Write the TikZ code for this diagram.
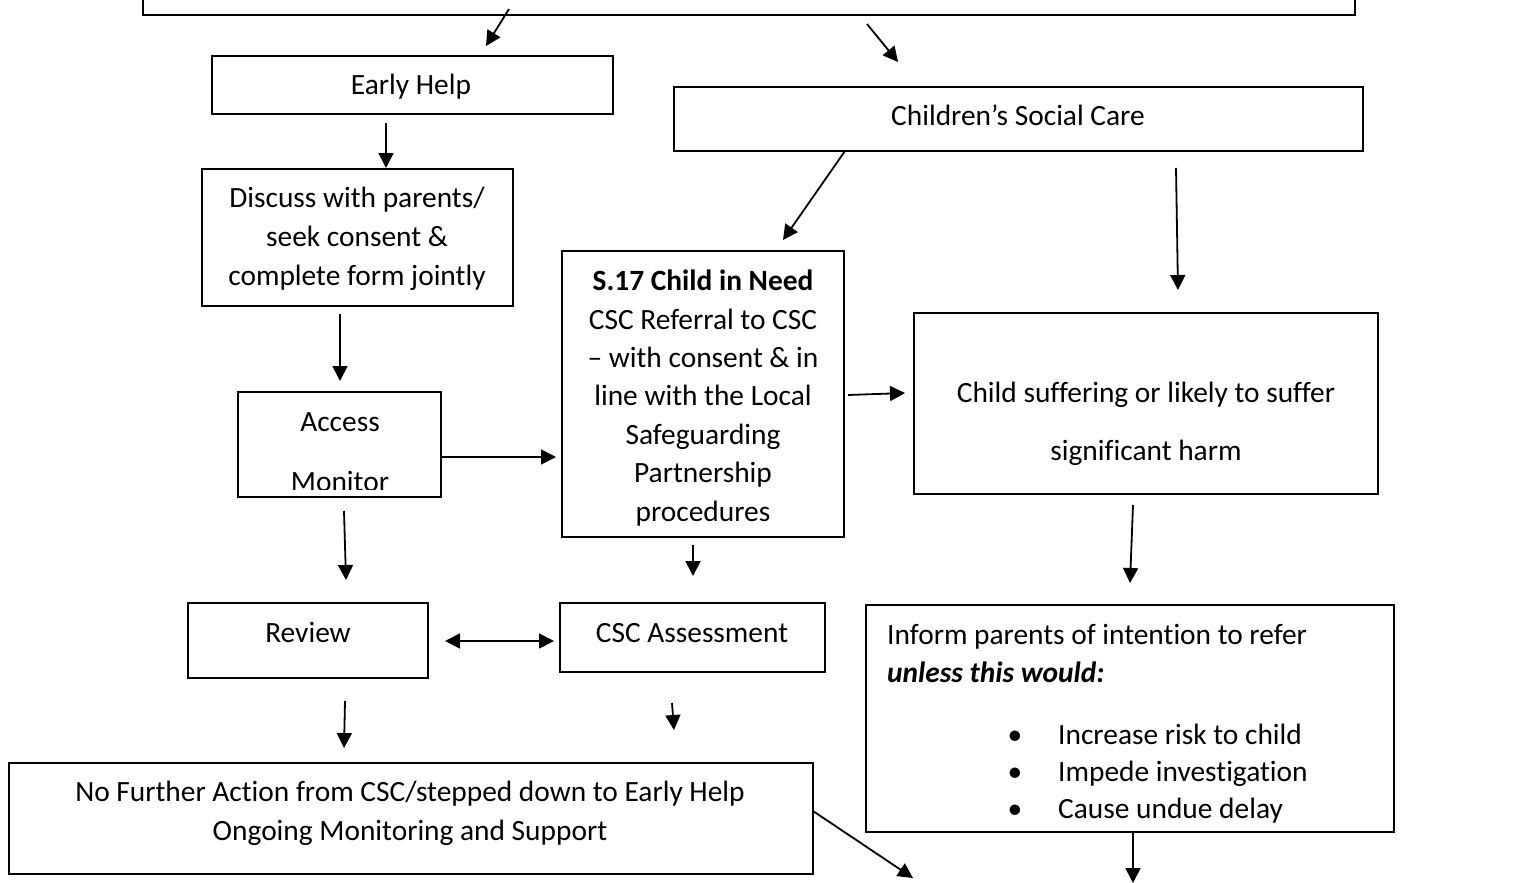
\documentclass[tikz,border=0pt]{standalone}
\usepackage{fontspec}
\setmainfont[Ligatures={NoCommon}]{Carlito}
\usetikzlibrary{arrows.meta}
\newcommand\mybox[5]{\node[box,minimum width={#4-#2},minimum height={#5-#3}] (#1) at ({(#2+#4)/2},{(#3+#5)/2}) {};}
\begin{document}
\begin{tikzpicture}[x=1pt,y=-1pt,
  box/.style={draw, line width=1.8pt, inner sep=0pt},
  txt/.style={inner sep=0pt, anchor=base, font=\fontsize{29.4}{38.5}\selectfont},
  ltxt/.style={txt, anchor=base west},
  arr/.style={line width=1.8pt, -{Triangle[length=15pt,width=15pt]}},
  darr/.style={line width=1.8pt, {Triangle[length=15pt,width=15pt]}-{Triangle[length=15pt,width=15pt]}}]
\useasboundingbox (0,0) rectangle (1515,883);

% boxes
\node[draw, line width=2.5pt, inner sep=0pt, minimum width=1212, minimum height=45] (top) at (749,-7.5) {};
\mybox{eh}{212}{56}{613}{114}
\mybox{csc}{674}{87}{1363}{151}
\mybox{disc}{202}{169}{513}{306}
\mybox{acc}{238}{392}{441}{497}
\mybox{sseventeen}{562}{251}{844}{537}
\mybox{harm}{914}{313}{1378}{494}
\mybox{rev}{188}{603}{428}{678}
\mybox{assess}{560}{603}{825}{672}
\mybox{inform}{866}{605}{1394}{832}
\mybox{nfa}{9}{763}{813}{874}

% texts
\node[txt] (tEH) at (411,94) {Early Help};
\node[txt] (tCSC) at (1018,125) {Children’s Social Care};
\node[txt] (tD1) at (357,207) {Discuss with parents/};
\node[txt] (tD2) at (357,246) {seek consent \&};
\node[txt] (tD3) at (357,285) {complete form jointly};
\node[txt] (tA1) at (340,431) {Access};
\begin{scope}
  \clip (239,393) rectangle (440,489);
  \node[txt] (tA2) at (340,491) {Monitor};
\end{scope}
\node[txt] (tS1) at (703,290) {\bfseries S.17 Child in Need};
\node[txt] (tS2) at (703,329) {CSC Referral to CSC};
\node[txt] (tS3) at (703,367) {– with consent \& in};
\node[txt] (tS4) at (703,405) {line with the Local};
\node[txt] (tS5) at (703,444) {Safeguarding};
\node[txt] (tS6) at (703,482) {Partnership};
\node[txt] (tS7) at (703,521) {procedures};
\node[txt] (tH1) at (1146,402) {Child suffering or likely to suffer};
\node[txt] (tH2) at (1146,460) {significant harm};
\node[txt] (tR) at (308,642) {Review};
\node[txt] (tCA) at (692,642) {CSC Assessment};
\node[ltxt] (tI1) at (887,644) {Inform parents of intention to refer};
\node[ltxt] (tI2) at (887,682) {\bfseries\itshape unless this would:};
\node[txt] (b1) at (1015,744) {•};
\node[txt] (b2) at (1015,781) {•};
\node[txt] (b3) at (1015,818) {•};
\node[ltxt] (tI3) at (1058,744) {Increase risk to child};
\node[ltxt] (tI4) at (1058,781) {Impede investigation};
\node[ltxt] (tI5) at (1058,818) {Cause undue delay};
\node[txt] (tN1) at (410,801) {No Further Action from CSC/stepped down to Early Help};
\node[txt] (tN2) at (410,840) {Ongoing Monitoring and Support};

% connector ends
\coordinate (c1s) at (509,9);    \coordinate (c1e) at (486,46);
\coordinate (c2s) at (867,24);   \coordinate (c2e) at (898,62);
\coordinate (c3s) at (386,123);  \coordinate (c3e) at (386,168);
\coordinate (c4s) at (340,314);  \coordinate (c4e) at (340,381);
\coordinate (c5s) at (441,457);  \coordinate (c5e) at (556,457);
\coordinate (c6s) at (845,151);  \coordinate (c6e) at (783,240);
\coordinate (c7s) at (1176,168); \coordinate (c7e) at (1178,290);
\coordinate (c8s) at (848,395);  \coordinate (c8e) at (905,393);
\coordinate (c9s) at (344,511);  \coordinate (c9e) at (346,580);
\coordinate (c10s) at (693,545); \coordinate (c10e) at (693,576);
\coordinate (c11s) at (1133,505);\coordinate (c11e) at (1130,583);
\coordinate (c12s) at (445,641); \coordinate (c12e) at (554,641);
\coordinate (c13s) at (345,701); \coordinate (c13e) at (344,748);
\coordinate (c14s) at (672,703); \coordinate (c14e) at (674,730);
\coordinate (c15s) at (813,811); \coordinate (c15e) at (913,878);
\coordinate (c16s) at (1133,832);\coordinate (c16e) at (1133,883);

\draw[arr] (c1s) -- (c1e);
\draw[arr] (c2s) -- (c2e);
\draw[arr] (c3s) -- (c3e);
\draw[arr] (c4s) -- (c4e);
\draw[arr] (c5s) -- (c5e);
\draw[arr] (c6s) -- (c6e);
\draw[arr] (c7s) -- (c7e);
\draw[arr] (c8s) -- (c8e);
\draw[arr] (c9s) -- (c9e);
\draw[arr] (c10s) -- (c10e);
\draw[arr] (c11s) -- (c11e);
\draw[darr] (c12s) -- (c12e);
\draw[arr] (c13s) -- (c13e);
\draw[arr] (c14s) -- (c14e);
\draw[arr] (c15s) -- (c15e);
\draw[arr] (c16s) -- (c16e);
\end{tikzpicture}
\end{document}
